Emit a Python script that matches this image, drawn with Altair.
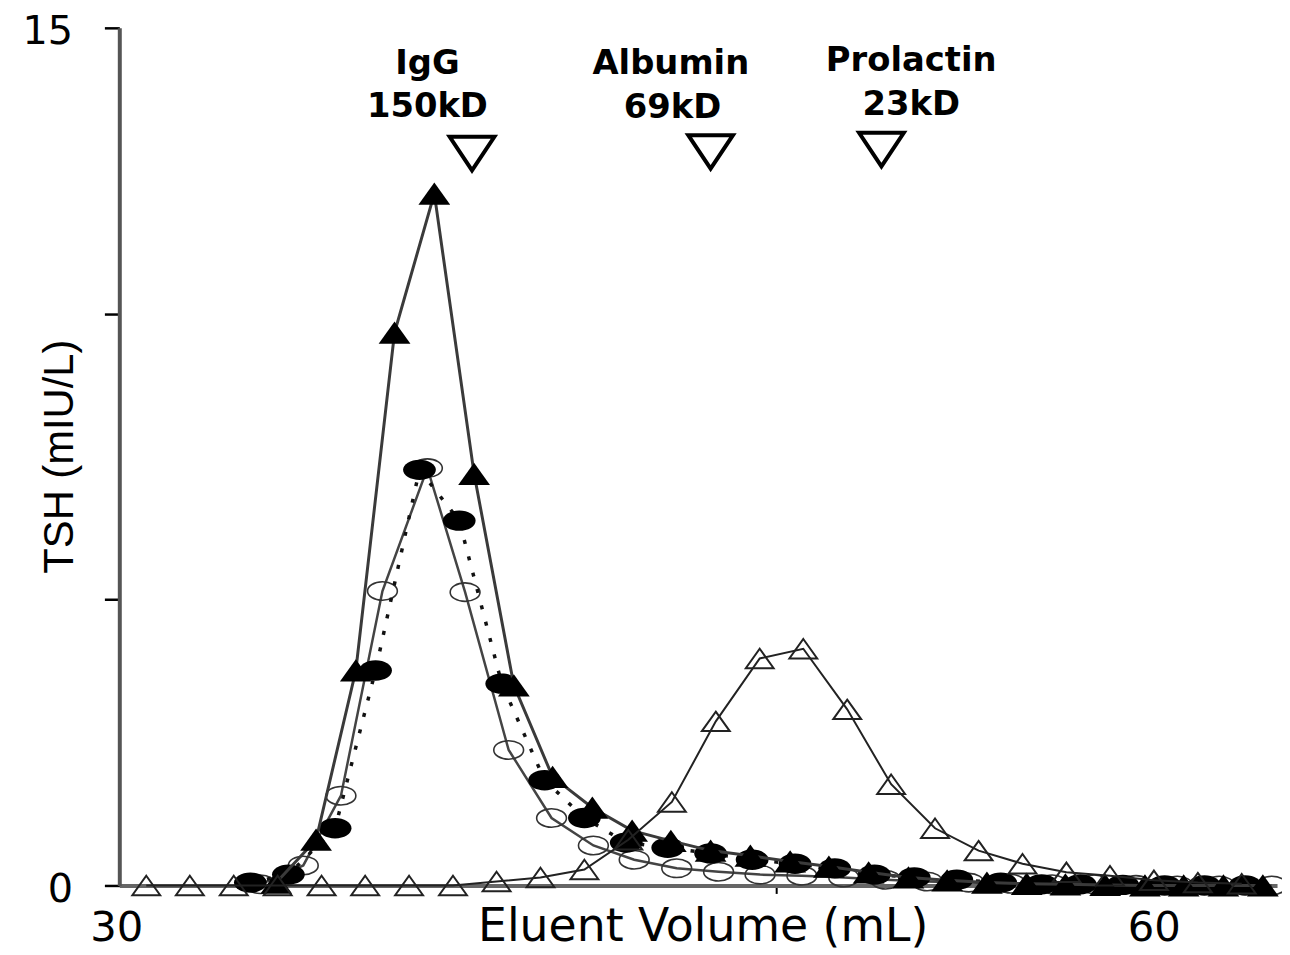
import altair as alt
import pandas as pd

# Filled triangles (solid line)
ft_x = [34.54, 35.69, 36.84, 37.96, 39.11, 40.26, 41.41, 42.53, 43.68, 44.83, 45.95, 47.10, 48.25,
        49.40, 50.52, 51.67, 52.82, 53.94, 55.09, 56.24, 57.36, 58.51, 59.66, 60.78, 61.93, 63.07]
ft_y = [0.05, 0.8, 3.76, 9.67, 12.1, 7.2, 3.5, 1.9, 1.36, 0.96, 0.78, 0.61, 0.52,
        0.42, 0.33, 0.23, 0.14, 0.09, 0.05, 0.03, 0.02, 0.01, 0, 0, 0, 0]

# Filled circles (dotted line)
fc_x = [33.79, 34.89, 36.24, 37.41, 38.68, 39.83, 41.06, 42.30, 43.45, 44.66, 45.86, 47.10, 48.30,
        49.54, 50.69, 51.84, 52.99, 54.22, 55.49, 56.67, 57.79, 59.02, 60.23, 61.38, 62.56]
fc_y = [0.05, 0.19, 1.0, 3.76, 7.27, 6.38, 3.53, 1.84, 1.18, 0.75, 0.66, 0.56, 0.45,
        0.38, 0.30, 0.19, 0.14, 0.10, 0.05, 0.02, 0.02, 0.01, 0, 0, 0]

# Open circles (solid line)
oc_x = [34.08, 35.32, 36.41, 37.61, 38.91, 40.00, 41.26, 42.50, 43.71, 44.89, 46.12, 47.33, 48.53,
        49.74, 50.95, 52.16, 53.36, 54.57, 55.78, 56.98, 58.19, 59.40, 60.60, 61.81, 63.33]
oc_y = [0.02, 0.35, 1.57, 5.15, 7.3, 5.13, 2.37, 1.18, 0.70, 0.45, 0.30, 0.24, 0.19,
        0.17, 0.14, 0.10, 0.07, 0.05, 0.03, 0.02, 0.02, 0.01, 0, 0, 0]

# Open triangles (solid line)
ot_x = [30.78, 32.04, 33.31, 34.58, 35.85, 37.11, 38.38, 39.65, 40.91, 42.18, 43.45, 44.72, 45.98,
        47.25, 48.52, 49.78, 51.05, 52.32, 53.59, 54.85, 56.12, 57.39, 58.65, 59.92, 61.19, 62.46]
ot_y = [0, 0, 0, 0, 0, 0, 0, 0, 0.07, 0.14, 0.28, 0.8, 1.46,
        2.87, 3.97, 4.14, 3.08, 1.77, 1.0, 0.61, 0.38, 0.23, 0.17, 0.09, 0.05, 0.03]

# Molecular weight markers
ann_text = ["IgG", "150kD", "Albumin", "69kD", "Prolactin", "23kD"]
ann_x = [38.91, 38.91, 45.95, 46.0, 52.9, 52.9]
ann_y = [14.19, 13.44, 14.19, 13.43, 14.24, 13.48]
mk_x = [40.2, 47.1, 52.04]
mk_y = [12.8, 12.83, 12.87]

TRI_UP = "M0,-0.7L1,0.7L-1,0.7Z"
TRI_DOWN = "M-1,-0.75L1,-0.75L0,0.75Z"
ELLIPSE = ("M-1,0C-1,-0.342,-0.552,-0.62,0,-0.62C0.552,-0.62,1,-0.342,1,0"
           "C1,0.342,0.552,0.62,0,0.62C-0.552,0.62,-1,0.342,-1,0Z")

xscale = alt.Scale(domain=[30, 63.48], nice=False, zero=False)
yscale = alt.Scale(domain=[0, 15], nice=False, zero=True)

xaxis = alt.Axis(
    values=[30, 49, 60],
    labelExpr="datum.value == 49 ? '' : datum.label",
    tickOpacity={"condition": {"test": "datum.value == 49", "value": 1}, "value": 0},
    grid=False, domainColor="#666666", domainWidth=4,
    tickColor="black", tickWidth=2, tickSize=8,
    labelFont="DejaVu Sans", labelFontSize=42, labelColor="black", labelPadding=14,
    labelFlush=False, labelOverlap=False, labelOffset=-3,
    title="Eluent Volume (mL)", titleFont="DejaVu Sans", titleFontSize=46,
    titleFontWeight="normal", titleColor="black",
    titleX=587, titleY=55, titleBaseline="alphabetic",
)
yaxis = alt.Axis(
    values=[0, 5, 10, 15],
    labelExpr="datum.value == 0 || datum.value == 15 ? datum.label : ''",
    grid=False, domainColor="#555555", domainWidth=4,
    tickColor="black", tickWidth=2.5, tickSize=15,
    labelFont="DejaVu Sans", labelFontSize=40, labelColor="black", labelPadding=32,
    labelOverlap=False, labelOffset=4,
    title="TSH (mIU/L)", titleFont="Liberation Sans", titleFontSize=42,
    titleFontWeight="normal", titleColor="black",
    titleAngle=270, titleX=-60, titleY=431, titleBaseline="middle",
)


def enc(chart):
    return chart.encode(
        x=alt.X("v:Q", scale=xscale, axis=xaxis),
        y=alt.Y("t:Q", scale=yscale, axis=yaxis),
    )


def df(xs, ys):
    return pd.DataFrame({"v": xs, "t": ys})


ft = df(ft_x, ft_y)
fc = df(fc_x, fc_y)
oc = df(oc_x, oc_y)
ot = df(ot_x, ot_y)

layers = [
    enc(alt.Chart(oc).mark_line(color="#444444", strokeWidth=2.5)),
    enc(alt.Chart(oc).mark_point(shape=ELLIPSE, size=900, filled=False, color="#333333",
                                 strokeWidth=1.6, opacity=1)),
    enc(alt.Chart(fc).mark_line(color="#111111", strokeWidth=3.5, strokeDash=[4, 13])),
    enc(alt.Chart(fc).mark_point(shape=ELLIPSE, size=1089, filled=True, color="black", opacity=1)),
    enc(alt.Chart(ft).mark_line(color="#3a3a3a", strokeWidth=3)),
    enc(alt.Chart(ft).mark_point(shape=TRI_UP, size=1024, filled=True, color="black", opacity=1)),
    enc(alt.Chart(ot).mark_line(color="#222222", strokeWidth=2)),
    enc(alt.Chart(ot).mark_point(shape=TRI_UP, size=784, filled=False, color="#222222",
                                 strokeWidth=2, opacity=1)),
    enc(alt.Chart(pd.DataFrame({"v": mk_x, "t": mk_y})).mark_point(
        shape=TRI_DOWN, size=2025, filled=False, color="black", strokeWidth=4, opacity=1)),
    alt.Chart(pd.DataFrame({"v": ann_x, "t": ann_y, "s": ann_text})).mark_text(
        font="DejaVu Sans", fontSize=34, fontWeight="bold", align="center",
        baseline="alphabetic", color="black").encode(
        x=alt.X("v:Q", scale=xscale, axis=xaxis),
        y=alt.Y("t:Q", scale=yscale, axis=yaxis),
        text="s:N"),
]

chart = alt.layer(*layers).properties(
    width=1165, height=863,
    autosize=alt.AutoSizeParams(type="none"),
    padding={"left": 112, "top": 17, "right": 5, "bottom": 66},
    background="white",
).configure_view(stroke=None)

chart.save("out.html", embed_options={"renderer": "svg", "actions": False})
